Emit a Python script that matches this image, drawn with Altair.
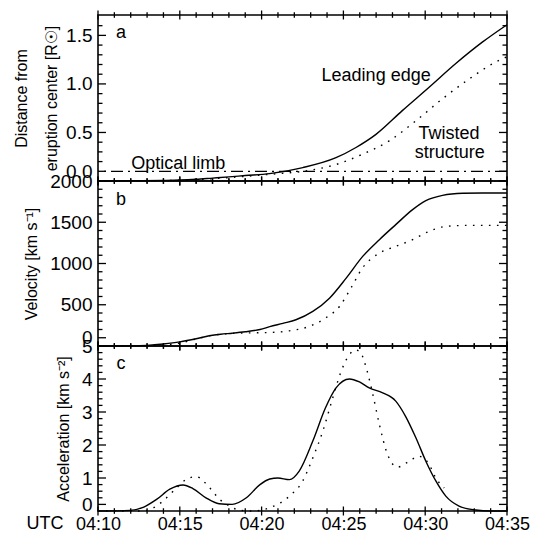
import altair as alt
import pandas as pd

# time axis: minutes after 04:00 UTC
# ---- panel a: distance from eruption center [R_sun]
lead_d_t = [10, 12, 14, 15, 16, 17, 18, 19, 20.49, 22.52, 24.55, 25.77, 26.99, 28.6, 30.24, 31.87, 33.49, 35]
lead_d_v = [0.0, 0.002, 0.006, 0.01, 0.018, 0.03, 0.042, 0.056, 0.076, 0.138, 0.24, 0.345, 0.48, 0.725, 0.966, 1.21, 1.43, 1.61]
twist_d_t = [10, 14, 16, 18, 19, 20.5, 22.52, 24.55, 26.17, 27.8, 29.43, 31.05, 32.68, 34.3, 35]
twist_d_v = [0.0, 0.004, 0.015, 0.035, 0.048, 0.069, 0.10, 0.17, 0.276, 0.414, 0.62, 0.846, 1.05, 1.225, 1.28]
limb_d = [0.1]

# ---- panel b: velocity [km/s]
lead_v_t = [10, 12, 13, 14, 15, 16, 16.8, 17.5, 18.2, 19.0, 19.9, 20.5, 21.3, 22.1, 23.13, 24.15, 25.17, 26.18, 27.2, 28.2, 29.23, 30.04, 31.06, 32.3, 33.5, 35]
lead_v_v = [0, 2, 8, 25, 50, 88, 124, 143, 155, 172, 200, 234, 275, 318, 419, 580, 823, 1086, 1289, 1471, 1653, 1762, 1826, 1851, 1855, 1855]
twist_v_t = [10, 13, 14, 15, 16, 17, 18, 19, 20.5, 21.7, 22.9, 23.9, 24.76, 25.47, 26.18, 26.7, 27.2, 28.2, 29.23, 30.24, 31.26, 32.7, 35]
twist_v_v = [0, 3, 12, 35, 85, 130, 150, 158, 164, 184, 237, 338, 479, 705, 950, 1058, 1126, 1208, 1289, 1390, 1450, 1462, 1462]

# ---- panel c: acceleration [km/s^2]
lead_a_t = [10, 11.95, 12.8, 13.58, 14.39, 15.2, 15.8, 16.6, 17.4, 18.2, 19.07, 19.9, 20.5, 21.0, 21.7, 22.3, 23.13, 23.9, 24.55, 25.37, 25.98, 26.58, 27.4, 28.2, 28.8, 29.43, 30.04, 30.65, 31.26, 32.07, 33.09, 34, 35]
lead_a_v = [0, 0.02, 0.12, 0.35, 0.66, 0.79, 0.68, 0.4, 0.22, 0.2, 0.4, 0.8, 0.97, 1.0, 0.95, 1.21, 2.12, 3.12, 3.73, 4.0, 3.91, 3.73, 3.58, 3.33, 2.87, 2.22, 1.51, 0.91, 0.45, 0.15, 0.03, 0.0, 0.0]
twist_a_t = [10, 12.6, 13.4, 13.97, 14.8, 15.4, 16.0, 16.83, 17.44, 18.05, 18.66, 19.5, 20.5, 21.7, 22.5, 23.13, 23.74, 24.35, 24.86, 25.37, 25.75, 26.05, 26.4, 26.8, 27.2, 27.7, 28.31, 29.02, 29.6, 30.24, 30.65, 31.16]
twist_a_v = [0, 0, 0.1, 0.3, 0.7, 0.96, 1.04, 0.7, 0.35, 0.15, 0.02, 0.0, 0.1, 0.45, 0.9, 1.61, 2.42, 3.43, 4.23, 4.74, 4.88, 4.8, 4.33, 3.53, 2.62, 1.71, 1.33, 1.51, 1.66, 1.41, 1.0, 0.7]

# ---- ticks and labels
x_major = [10, 15, 20, 25, 30, 35]
x_minor = [m for m in range(11, 35) if m % 5 != 0]
a_major = [0.1, 0.5, 1.0, 1.5]
a_minor = [0.2, 0.3, 0.4, 0.6, 0.7, 0.8, 0.9, 1.1, 1.2, 1.3, 1.4, 1.6]
b_major = [100, 500, 1000, 1500, 2000]
b_minor = [v for v in range(200, 2000, 100) if v % 500 != 0]
c_major = [0.2, 1, 2, 3, 4, 5]
c_minor = [0.4, 0.6, 0.8, 1.2, 1.4, 1.6, 1.8, 2.2, 2.4, 2.6, 2.8, 3.2, 3.4, 3.6, 3.8, 4.2, 4.4, 4.6, 4.8]

# ---- annotations
a_text = ["a", "Leading edge", "Twisted", "structure", "Optical limb"]
a_text_t = [11.4, 27.0, 31.46, 31.5, 14.9]
a_text_d = [1.52, 1.077, 0.483, 0.293, 0.176]
b_text, b_text_t, b_text_v = ["b"], [11.4], [1774]
c_text, c_text_t, c_text_v = ["c"], [11.4], [4.44]

W = 409
HA, HB, HC = 166, 165, 165
FONT = "Liberation Sans"
DOT = [1.6, 6.4]
XPAD = 4
XFS = 18

A_TITLE = ["Distance from", "eruption center [R☉]"]
A_EXPR = "datum.value < 0.2 ? '0.0' : format(datum.value, '.1f')"
A_DOMAIN = [0, 1.71]


def xs():
    return alt.Scale(domain=[10, 35], nice=False, zero=False)


def yaxis(title, ymaj, label_expr, tpad):
    return alt.Axis(values=ymaj, labelExpr=label_expr, title=title, ticks=False,
                    domain=False, grid=False, labelOverlap=False, titleLineHeight=30,
                    titlePadding=tpad)


def panel(field, domain, title, ymaj, ymin, label_expr, series, texts, h, show_x,
          extra=(), tpad=10):
    ys = alt.Scale(domain=domain, nice=False, zero=False)
    if show_x:
        xaxis = alt.Axis(values=x_major, labelExpr="'04:' + datum.value", title=None,
                         ticks=False, domain=False, grid=False, labelFlush=False,
                         labelOverlap=False, labelPadding=XPAD, labelFontSize=XFS)
    else:
        xaxis = None
    X = alt.X("t:Q", scale=xs(), axis=xaxis)
    Y = alt.Y(field + ":Q", scale=ys, axis=yaxis(title, ymaj, label_expr, tpad))
    layers = []
    for df, mk in extra:
        layers.append(alt.Chart(df).mark_rule(**mk).encode(y=Y))
    for tt, vv, dash in series:
        df = pd.DataFrame({"t": tt, field: vv})
        mk = dict(color="black", strokeWidth=1.4, interpolate="monotone")
        if dash:
            mk["strokeDash"] = dash
        layers.append(alt.Chart(df).mark_line(**mk).encode(x=X, y=Y))
    # x ticks (crossing the top and bottom frame)
    for vals, L in ((x_major, 4.5), (x_minor, 2.8)):
        df = pd.DataFrame({"t": vals})
        for yc in (0, h):
            layers.append(alt.Chart(df).mark_rule(color="black", strokeWidth=1.3).encode(
                x=X, y=alt.value(yc - L), y2=alt.value(yc + L)))
    # y ticks (inward, left and right)
    for vals, L in ((ymaj, 8), (ymin, 4.5)):
        df = pd.DataFrame({field: vals})
        layers.append(alt.Chart(df).mark_rule(color="black", strokeWidth=1.3).encode(
            y=Y, x=alt.value(0), x2=alt.value(L)))
        layers.append(alt.Chart(df).mark_rule(color="black", strokeWidth=1.3).encode(
            y=Y, x=alt.value(W - L), x2=alt.value(W)))
    txt, tt, vv = texts
    tdf = pd.DataFrame({"label": txt, "t": tt, field: vv})
    layers.append(alt.Chart(tdf).mark_text(font=FONT, fontSize=18, color="black",
                                           align="center", baseline="middle").encode(
        x=X, y=Y, text="label:N"))
    if show_x:
        udf = pd.DataFrame({"label": ["UTC"], "t": [x_major[0]], field: [domain[0]]})
        layers.append(alt.Chart(udf).mark_text(
            font=FONT, fontSize=XFS, color="black", dx=-53, dy=XPAD, baseline="top").encode(
            x=X, y=Y, text="label:N"))
    return alt.layer(*layers).properties(width=W, height=h)


limb_df = pd.DataFrame({"d": limb_d})
pa = panel("d", A_DOMAIN, A_TITLE, a_major, a_minor, A_EXPR,
           [(lead_d_t, lead_d_v, None), (twist_d_t, twist_d_v, DOT)],
           (a_text, a_text_t, a_text_d), HA, False,
           extra=[(limb_df, dict(color="black", strokeWidth=1.2, strokeDash=[12, 5, 2, 5]))],
           tpad=6)

pb = panel("v", [0, 2000], "Velocity [km s⁻¹]", b_major, b_minor,
           "datum.value < 200 ? '0' : format(datum.value, 'd')",
           [(lead_v_t, lead_v_v, None), (twist_v_t, twist_v_v, DOT)],
           (b_text, b_text_t, b_text_v), HB, False)

pc = panel("acc", [0, 5], "Acceleration [km s⁻²]", c_major, c_minor,
           "datum.value < 0.5 ? '0' : format(datum.value, 'd')",
           [(lead_a_t, lead_a_v, None), (twist_a_t, twist_a_v, DOT)],
           (c_text, c_text_t, c_text_v), HC, True)

chart = alt.vconcat(pa, pb, pc, spacing=0, bounds="flush").properties(
    padding={"left": 4, "top": 1, "right": 0, "bottom": 0}
).configure_view(stroke="black", strokeWidth=1.6).configure_axis(
    labelFont=FONT, labelFontSize=19, labelColor="black", labelPadding=6,
    titleFont=FONT, titleFontSize=16, titleFontWeight="normal", titleColor="black"
)

chart.save("out.html", embed_options={"renderer": "svg", "actions": False})
